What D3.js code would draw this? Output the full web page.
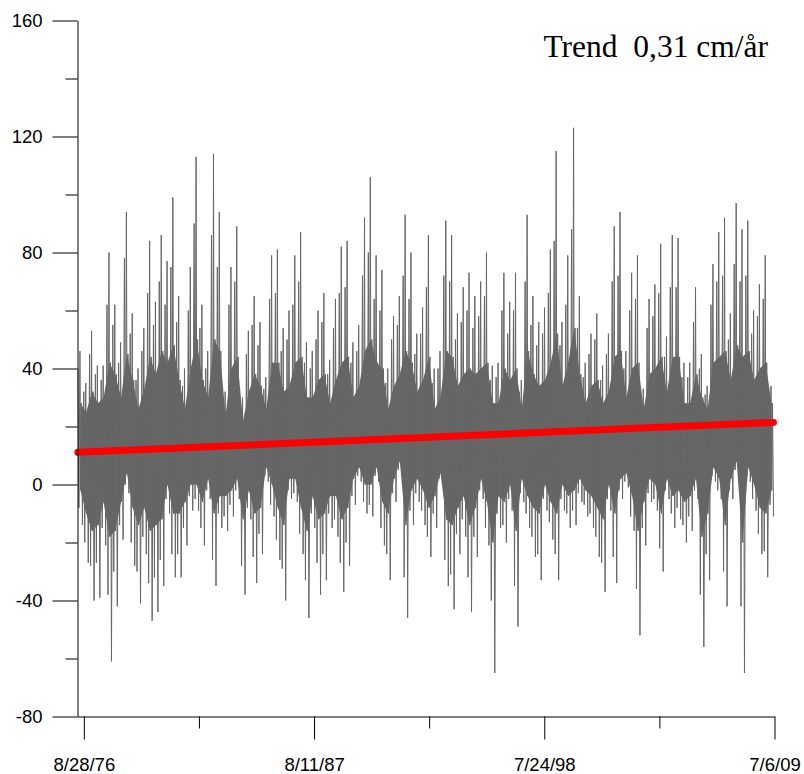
<!DOCTYPE html>
<html>
<head>
<meta charset="utf-8">
<script src="https://cdn.jsdelivr.net/npm/d3@7"></script>
<style>
  body { margin: 0; background: #fff; }
  svg { display: block; }
</style>
</head>
<body>
<svg id="chart" width="804" height="774"></svg>
<script>
// series runs from mid May 1976 to 6 Jul 2009, read as 120 bins of ~101 days
const seriesStart = new Date(1976, 4, 10);
const seriesEnd = new Date(2009, 6, 6);
const binDays = 100.9;

// highest / lowest reading inside each bin (cm)
const highVals = [
  46, 35, 53, 41, 41, 80, 62, 49, 94, 59, 40, 54, 84, 63, 86, 77, 99, 65, 40, 75,
  113, 62, 46, 114, 94, 32, 75, 89, 30, 53, 65, 56, 37, 79, 81, 54, 60, 79, 87, 49,
  46, 60, 66, 43, 64, 82, 84, 49, 55, 92, 106, 79, 74, 40, 58, 65, 93, 80, 52, 61,
  86, 40, 46, 91, 86, 59, 68, 73, 65, 70, 80, 41, 42, 73, 63, 73, 36, 93, 65, 56,
  61, 81, 115, 56, 79, 123, 65, 42, 52, 59, 41, 52, 89, 94, 46, 73, 79, 33, 64, 69,
  83, 51, 86, 85, 42, 42, 68, 45, 34, 76, 87, 92, 59, 97, 88, 91, 60, 69, 79, 34
];
const lowVals = [
  -14, -27, -40, -39, -21, -61, -42, -19, -3, -28, -41, -24, -47, -44, -35, -10, -32, -32, -21, -9,
  -9, -21, -5, -35, -15, -16, -11, -5, -38, -12, -34, -24, 1, -11, -26, -40, -5, -6, -24, -46,
  -15, -38, -33, -15, -18, -37, -28, -7, 1, -10, -11, 1, -21, -33, -6, 3, -46, -14, -6, -14,
  -25, -15, 0, -35, -43, -24, -18, -44, -25, -5, -21, -65, -15, -20, -9, -49, -6, -15, -25, -33,
  -9, -19, -33, -9, -15, -14, -6, -11, -15, -25, -37, -9, -34, -5, -1, -16, -52, -21, -6, -9,
  -30, -5, -15, -12, -20, -16, -5, -56, -33, 1, -5, -42, -5, 3, -65, 1, -9, -24, -32, -11
];

// next highest / lowest spikes in each bin
const highVals2 = [
  40, 32, 45, 38, 36, 62, 55, 42, 78, 52, 36, 46, 66, 55, 70, 62, 75, 56, 34, 60,
  90, 54, 40, 86, 75, 30, 62, 70, 28, 45, 55, 48, 33, 64, 66, 46, 50, 62, 70, 42,
  40, 50, 56, 38, 54, 66, 68, 42, 46, 72, 80, 64, 60, 35, 50, 55, 72, 64, 45, 52,
  68, 35, 40, 72, 70, 50, 56, 60, 54, 58, 65, 36, 37, 60, 52, 60, 32, 70, 55, 48,
  52, 66, 84, 48, 62, 88, 54, 37, 45, 50, 36, 45, 70, 72, 40, 60, 64, 30, 54, 58,
  66, 44, 68, 68, 37, 37, 56, 40, 31, 62, 70, 72, 50, 76, 70, 72, 52, 58, 64, 31
];
const lowVals2 = [
  -8, -20, -28, -27, -15, -38, -30, -14, 0, -20, -30, -18, -34, -32, -26, -5, -24, -24, -15, -4,
  -5, -15, -2, -26, -10, -11, -7, -2, -28, -8, -25, -17, 3, -7, -19, -29, -2, -3, -17, -33,
  -10, -27, -24, -10, -12, -27, -20, -4, 3, -6, -7, 3, -15, -24, -3, 5, -32, -9, -3, -9,
  -18, -10, 2, -26, -31, -17, -12, -32, -18, -2, -15, -40, -10, -14, -5, -35, -3, -10, -18, -24,
  -5, -13, -24, -5, -10, -9, -3, -7, -10, -18, -27, -5, -25, -2, 1, -11, -36, -15, -3, -5,
  -22, -2, -10, -8, -14, -11, -2, -38, -24, 3, -2, -30, -2, 5, -42, 3, -5, -17, -23, -7
];

// edges of the solid grey part in each bin
const coreHigh = [
  28, 25, 32, 28, 30, 42, 38, 30, 45, 36, 26, 33, 44, 38, 46, 42, 48, 36, 26, 40,
  50, 36, 30, 50, 46, 24, 40, 44, 22, 32, 38, 34, 26, 42, 42, 32, 34, 42, 44, 30,
  30, 36, 38, 28, 36, 42, 44, 30, 34, 46, 50, 42, 40, 26, 34, 38, 46, 42, 32, 36,
  44, 26, 30, 46, 44, 34, 38, 40, 38, 40, 42, 28, 28, 40, 36, 40, 26, 46, 38, 34,
  36, 42, 52, 34, 42, 54, 38, 28, 34, 36, 28, 32, 44, 46, 30, 40, 42, 26, 38, 40,
  44, 32, 44, 44, 28, 28, 38, 30, 26, 42, 44, 46, 36, 48, 44, 46, 36, 40, 42, 28
];
const coreLow = [
  -2, -10, -16, -14, -6, -18, -16, -6, 4, -8, -14, -8, -16, -14, -12, 0, -10, -10, -6, 0,
  0, -6, 2, -10, -4, -4, -2, 2, -12, -2, -10, -8, 6, 0, -8, -14, 2, 2, -8, -16,
  -4, -12, -10, -4, -4, -12, -8, 2, 6, 0, 0, 6, -6, -10, 2, 8, -14, -2, 2, -2,
  -8, -4, 4, -12, -14, -8, -4, -14, -8, 2, -6, -20, -4, -6, 0, -16, 2, -4, -8, -10,
  0, -6, -10, 0, -4, -2, 2, -2, -4, -8, -12, 0, -10, 2, 4, -4, -16, -6, 2, 0,
  -10, 2, -4, -2, -6, -4, 2, -18, -10, 6, 2, -14, 2, 8, -20, 6, 0, -8, -10, -2
];

const trendDates = [new Date(1976, 4, 16), new Date(2009, 5, 18)];
const trendVals = [11.1, 21.4];
const trendText = "Trend  0,31 cm/år";

const xTickDates = [new Date(1976, 7, 28), new Date(1987, 7, 11), new Date(1998, 6, 24), new Date(2009, 6, 6)];
const xTickLabels = ["8/28/76", "8/11/87", "7/24/98", "7/6/09"];
const yMajor = [-80, -40, 0, 40, 80, 120, 160];
const yMinor = [-60, -20, 20, 60, 100, 140];

const svg = d3.select("#chart");
const x = d3.scaleTime().domain([seriesStart, seriesEnd]).range([77.5, 774.5]);
const y = d3.scaleLinear().domain([-80, 160]).range([716.5, 20.5]);
const dayToDate = d => new Date(+seriesStart + d * 864e5);
const font = "'Liberation Sans', Arial, sans-serif";
const grey = "#666666";

// solid core, jagged per bin
const corePts = coreHigh.map((h, i) => ({ d: (i + 0.5) * binDays, hi: h, lo: coreLow[i] }));
svg.append("path")
  .datum(corePts)
  .attr("fill", grey)
  .attr("d", d3.area()
    .x(p => x(dayToDate(p.d)))
    .y0(p => y(p.lo))
    .y1(p => y(p.hi)));

// the record, walked through the readings of each bin in turn
const linePts = [];
highVals.forEach((h, i) => {
  linePts.push({ d: (i + 0.08) * binDays, v: highVals2[i] });
  linePts.push({ d: (i + 0.25) * binDays, v: lowVals2[i] });
  linePts.push({ d: (i + 0.42) * binDays, v: h });
  linePts.push({ d: (i + 0.55) * binDays, v: coreLow[i] });
  linePts.push({ d: (i + 0.68) * binDays, v: coreHigh[i] });
  linePts.push({ d: (i + 0.85) * binDays, v: lowVals[i] });
});
svg.append("path")
  .datum(linePts)
  .attr("fill", "none")
  .attr("stroke", grey)
  .attr("stroke-width", 1)
  .attr("d", d3.line().x(p => x(dayToDate(p.d))).y(p => y(p.v)));

// trend
svg.append("path")
  .datum(trendDates.map((d, i) => [d, trendVals[i]]))
  .attr("fill", "none")
  .attr("stroke", "#ff0000")
  .attr("stroke-width", 7)
  .attr("stroke-linecap", "round")
  .attr("d", d3.line().x(p => x(p[0])).y(p => y(p[1])));

// y axis
const yAxis = svg.append("g").attr("transform", "translate(77.5,0)")
  .call(d3.axisLeft(y).tickValues(yMajor).tickSize(25).tickSizeOuter(0).tickPadding(10).tickFormat(d => String(d)));
svg.append("g").attr("transform", "translate(77.5,0)")
  .call(d3.axisLeft(y).tickValues(yMinor).tickSize(12).tickSizeOuter(0).tickFormat(""))
  .select(".domain").remove();
yAxis.selectAll("text").attr("font-family", font).attr("font-size", 18.5).attr("fill", "#000").attr("dy", "0.35em");

// x axis
const xAxis = svg.append("g").attr("transform", "translate(0,716.5)")
  .call(d3.axisBottom(x).tickValues(xTickDates).tickSize(23).tickSizeOuter(0).tickFormat((d, i) => xTickLabels[i]));
svg.append("g").attr("transform", "translate(0,716.5)")
  .call(d3.axisBottom(x).tickValues(xTickDates.slice(0, 3).map(d => d3.timeDay.offset(d, 2000))).tickSize(12).tickSizeOuter(0).tickFormat(""))
  .select(".domain").remove();
xAxis.selectAll("text").attr("font-family", font).attr("font-size", 18.5).attr("fill", "#000").attr("y", 54).attr("dy", 0);
svg.selectAll(".domain, .tick line").attr("stroke", "#000");

svg.append("text")
  .attr("x", 768)
  .attr("y", 56.5)
  .attr("text-anchor", "end")
  .attr("font-family", "'Liberation Serif', 'Times New Roman', serif")
  .attr("font-size", 31.5)
  .style("white-space", "pre")
  .text(trendText);
</script>
</body>
</html>
